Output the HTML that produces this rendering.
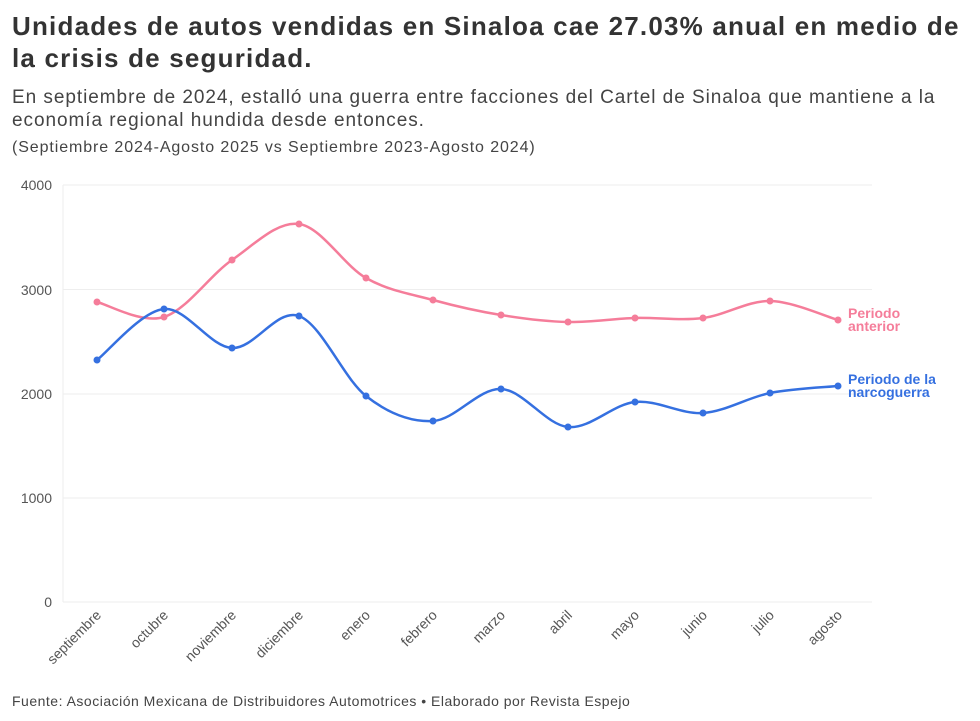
<!DOCTYPE html>
<html><head><meta charset="utf-8"><style>
body{margin:0;background:#fff;width:980px;height:721px;overflow:hidden;font-family:"Liberation Sans",sans-serif;color:#333}
h1{position:absolute;left:12px;top:10px;margin:0;font-size:26px;line-height:32px;font-weight:bold;color:#333;width:962px;letter-spacing:1.2px}
.sub{position:absolute;left:12px;top:86px;font-size:19px;line-height:23px;color:#444;width:945px;letter-spacing:0.95px}
.note{position:absolute;left:12px;top:139px;font-size:16px;color:#444;letter-spacing:0.9px}
.src{position:absolute;left:12px;top:693px;font-size:14px;color:#444;letter-spacing:0.5px}
svg{position:absolute;left:0;top:0}
</style></head><body>
<h1>Unidades de autos vendidas en Sinaloa cae 27.03% anual en medio de<br>la crisis de seguridad.</h1>
<div class="sub">En septiembre de 2024, estalló una guerra entre facciones del Cartel de Sinaloa que mantiene a la<br>economía regional hundida desde entonces.</div>
<div class="note">(Septiembre 2024-Agosto 2025 vs Septiembre 2023-Agosto 2024)</div>
<svg width="980" height="721" id="s" font-family="Liberation Sans, sans-serif">
<g stroke="#eee" stroke-width="1">
<line x1="63" x2="872" y1="185" y2="185"/><line x1="63" x2="872" y1="289.5" y2="289.5"/>
<line x1="63" x2="872" y1="394" y2="394"/><line x1="63" x2="872" y1="498" y2="498"/>
<line x1="63" x2="872" y1="602" y2="602"/><line x1="63" x2="63" y1="185" y2="602"/>
</g>
<g font-size="14" fill="#555" text-anchor="end">
<text x="52" y="190">4000</text><text x="52" y="295">3000</text><text x="52" y="399">2000</text><text x="52" y="503">1000</text><text x="52" y="607">0</text>
</g>
<g id="xl" font-size="14" fill="#555" text-anchor="end"></g>
<path id="pp" fill="none" stroke="#f57d9a" stroke-width="2.5"/>
<path id="bp" fill="none" stroke="#3570e0" stroke-width="2.5"/>
<g id="dots"></g>
<text x="848" y="318" font-size="14" font-weight="bold" fill="#f57d9a">Periodo</text>
<text x="848" y="331" font-size="14" font-weight="bold" fill="#f57d9a">anterior</text>
<text x="848" y="384" font-size="14" font-weight="bold" fill="#3570e0">Periodo de la</text>
<text x="848" y="397" font-size="14" font-weight="bold" fill="#3570e0">narcoguerra</text>
</svg>
<div class="src">Fuente: Asociación Mexicana de Distribuidores Automotrices • Elaborado por Revista Espejo</div>
<script>
var X=[97,164,232,299,366,433,501,568,635,703,770,838];
var P=[302,317,260,224,278,300,315,322,318,318,301,320];
var B=[360,309,348,316,396,421,389,427,402,413,393,386];
var M=["septiembre","octubre","noviembre","diciembre","enero","febrero","marzo","abril","mayo","junio","julio","agosto"];
function path(Y){var d="M"+X[0]+","+Y[0];for(var i=0;i<X.length-1;i++){var p0=i>0?i-1:i,p3=i<X.length-2?i+2:i+1;
var c1x=X[i]+(X[i+1]-X[p0])/6,c1y=Y[i]+(Y[i+1]-Y[p0])/6,c2x=X[i+1]-(X[p3]-X[i])/6,c2y=Y[i+1]-(Y[p3]-Y[i])/6;
d+=" C"+c1x+","+c1y+" "+c2x+","+c2y+" "+X[i+1]+","+Y[i+1];}return d;}
document.getElementById("pp").setAttribute("d",path(P));
document.getElementById("bp").setAttribute("d",path(B));
var h="",l="";
for(var i=0;i<12;i++){h+='<circle cx="'+X[i]+'" cy="'+P[i]+'" r="3.5" fill="#f57d9a"/><circle cx="'+X[i]+'" cy="'+B[i]+'" r="3.5" fill="#3570e0"/>';
l+='<text transform="translate('+(X[i]+5)+',616) rotate(-45)">'+M[i]+'</text>';}
document.getElementById("dots").innerHTML=h;document.getElementById("xl").innerHTML=l;
</script>
</body></html>
